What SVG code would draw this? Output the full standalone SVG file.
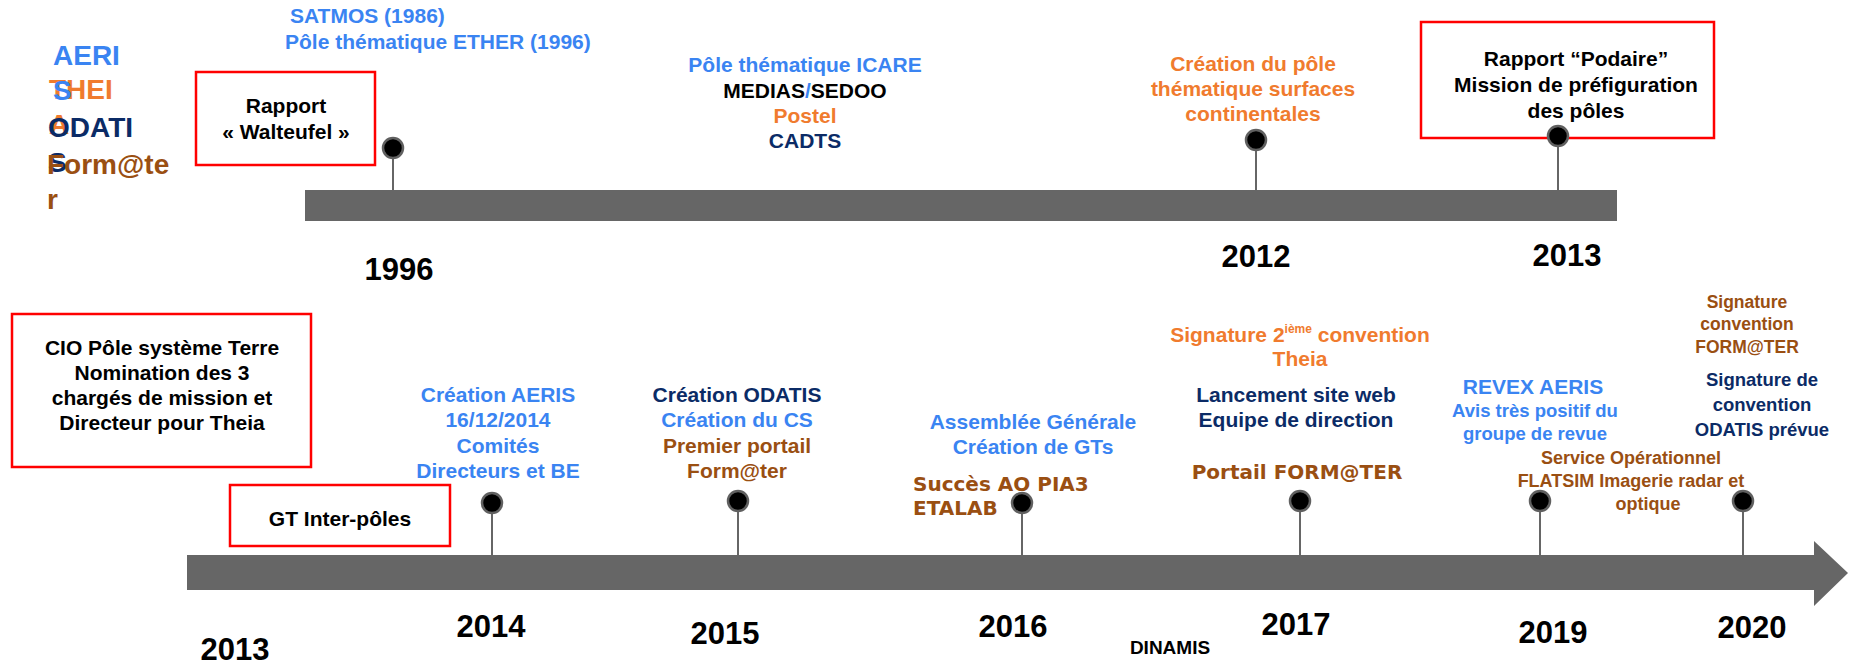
<svg xmlns="http://www.w3.org/2000/svg" width="1851" height="664" viewBox="0 0 1851 664">
<style>
text{font-family:"Liberation Sans",Arial,Helvetica,sans-serif;font-weight:bold;font-size:21px;}
.c{text-anchor:middle;}
.blue{fill:#3a84f2;}
.orange{fill:#f07b2e;}
.navy{fill:#0b2b66;}
.brown{fill:#9a4f12;}
.black{fill:#000;}
.wide{font-family:"DejaVu Sans",Verdana,sans-serif;font-size:20px;}
.leg{font-size:28px;}
.year{font-size:31px;fill:#000;text-anchor:middle;}
.box{fill:#fff;stroke:#ff0000;stroke-width:2.5;}
.bar{fill:#666666;}
.dot{fill:#000;stroke:#606060;stroke-width:2.5;}
.stem{stroke:#666666;stroke-width:2;fill:none;}
</style>
<rect width="1851" height="664" fill="#fff"/>

<g id="legend">
<text class="leg orange" x="49" y="99">THEI</text>
<text class="leg orange" x="49" y="134">A</text>
<text class="leg blue" x="53" y="65">AERI</text>
<text class="leg blue" x="53" y="100">S</text>
<text class="leg navy" x="48" y="137">ODATI</text>
<text class="leg navy" x="48" y="172">S</text>
<text class="leg brown" x="47" y="174">Form@te</text>
<text class="leg brown" x="47" y="209">r</text>
</g>

<g id="timelines">
<rect class="bar" x="305" y="190" width="1312" height="31"/>
<path class="bar" d="M187,555 H1814 V541 L1848,573 L1814,606 V590 H187 Z"/>
</g>

<g id="connectors">
<line class="stem" x1="393" y1="148" x2="393" y2="190"/>
<line class="stem" x1="1256" y1="140" x2="1256" y2="190"/>
<line class="stem" x1="1558" y1="136" x2="1558" y2="190"/>
<line class="stem" x1="492" y1="503" x2="492" y2="555"/>
<line class="stem" x1="738" y1="501" x2="738" y2="555"/>
<line class="stem" x1="1022" y1="503" x2="1022" y2="555"/>
<line class="stem" x1="1300" y1="501" x2="1300" y2="555"/>
<line class="stem" x1="1540" y1="501" x2="1540" y2="555"/>
<line class="stem" x1="1743" y1="501" x2="1743" y2="555"/>
</g>

<g id="node-satmos-ether">
<text class="blue" x="290" y="23">SATMOS (1986)</text>
<text class="blue" x="285" y="49">Pôle thématique ETHER (1996)</text>
</g>

<g id="node-walteufel">
<rect class="box" x="196" y="72" width="179" height="93"/>
<text class="c black" x="286" y="113">Rapport</text>
<text class="c black" x="286" y="139">« Walteufel »</text>
</g>

<g id="node-icare">
<text class="c blue" x="805" y="72">Pôle thématique ICARE</text>
<text class="c black" x="805" y="98">MEDIAS<tspan class="blue">/</tspan>SEDOO</text>
<text class="c orange" x="805" y="123">Postel</text>
<text class="c navy" x="805" y="148">CADTS</text>
</g>

<g id="node-surfaces">
<text class="c orange" x="1253" y="71">Création du pôle</text>
<text class="c orange" x="1253" y="96">thématique surfaces</text>
<text class="c orange" x="1253" y="121">continentales</text>
</g>

<g id="node-podaire">
<rect class="box" x="1421" y="22" width="293" height="116"/>
<text class="c black" x="1576" y="66">Rapport “Podaire”</text>
<text class="c black" x="1576" y="92">Mission de préfiguration</text>
<text class="c black" x="1576" y="118">des pôles</text>
</g>

<g id="markers">
<circle class="dot" cx="393" cy="148" r="10"/>
<circle class="dot" cx="1256" cy="140" r="10"/>
<circle class="dot" cx="1558" cy="136" r="10"/>
<circle class="dot" cx="492" cy="503" r="10"/>
<circle class="dot" cx="738" cy="501" r="10"/>
<circle class="dot" cx="1022" cy="503" r="10"/>
<circle class="dot" cx="1300" cy="501" r="10"/>
<circle class="dot" cx="1540" cy="501" r="10"/>
<circle class="dot" cx="1743" cy="501" r="10"/>
</g>

<g id="years">
<text class="year" x="399" y="280">1996</text>
<text class="year" x="1256" y="267">2012</text>
<text class="year" x="1567" y="266">2013</text>
<text class="year" x="235" y="660">2013</text>
<text class="year" x="491" y="637">2014</text>
<text class="year" x="725" y="644">2015</text>
<text class="year" x="1013" y="637">2016</text>
<text class="year" x="1296" y="635">2017</text>
<text class="year" x="1553" y="643">2019</text>
<text class="year" x="1752" y="638">2020</text>
<text class="c black" x="1170" y="654" style="font-size:19px">DINAMIS</text>
</g>

<g id="node-cio">
<rect class="box" x="12" y="314" width="299" height="153"/>
<text class="c black" x="162" y="355">CIO Pôle système Terre</text>
<text class="c black" x="162" y="380">Nomination des 3</text>
<text class="c black" x="162" y="405">chargés de mission et</text>
<text class="c black" x="162" y="430">Directeur pour Theia</text>
</g>

<g id="node-gt">
<rect class="box" x="230" y="485" width="220" height="61"/>
<text class="c black" x="340" y="526">GT Inter-pôles</text>
</g>

<g id="node-aeris">
<text class="c blue" x="498" y="402">Création AERIS</text>
<text class="c blue" x="498" y="427">16/12/2014</text>
<text class="c blue" x="498" y="453">Comités</text>
<text class="c blue" x="498" y="478">Directeurs et BE</text>
</g>

<g id="node-odatis">
<text class="c navy" x="737" y="402">Création ODATIS</text>
<text class="c blue" x="737" y="427">Création du CS</text>
<text class="c brown" x="737" y="453">Premier portail</text>
<text class="c brown" x="737" y="478">Form@ter</text>
</g>

<g id="node-assemblee">
<text class="c blue" x="1033" y="429">Assemblée Générale</text>
<text class="c blue" x="1033" y="454">Création de GTs</text>
</g>

<g id="node-pia3">
<text class="wide brown" x="913" y="491">Succès AO PIA3</text>
<text class="wide brown" x="913" y="515">ETALAB</text>
</g>

<g id="node-convention2">
<text class="c orange" x="1300" y="342">Signature 2<tspan style="font-size:12px" dy="-9">ième</tspan><tspan dy="9"> convention</tspan></text>
<text class="c orange" x="1300" y="366">Theia</text>
</g>

<g id="node-siteweb">
<text class="c navy" x="1296" y="402">Lancement site web</text>
<text class="c navy" x="1296" y="427">Equipe de direction</text>
</g>

<g id="node-portail">
<text class="wide brown c" x="1297" y="479">Portail FORM@TER</text>
</g>

<g id="node-revex">
<text class="c blue" x="1533" y="394">REVEX AERIS</text>
<text class="c blue" x="1535" y="417" style="font-size:18.5px">Avis très positif du</text>
<text class="c blue" x="1535" y="440" style="font-size:18.5px">groupe de revue</text>
</g>

<g id="node-flatsim">
<text class="c brown" x="1631" y="464" style="font-size:18px">Service Opérationnel</text>
<text class="c brown" x="1631" y="487" style="font-size:18px">FLATSIM Imagerie radar et</text>
<text class="c brown" x="1648" y="510" style="font-size:18px">optique</text>
</g>

<g id="node-formater-conv">
<text class="c brown" x="1747" y="308" style="font-size:17.5px">Signature</text>
<text class="c brown" x="1747" y="330" style="font-size:17.5px">convention</text>
<text class="c brown" x="1747" y="353" style="font-size:17.5px">FORM@TER</text>
</g>

<g id="node-odatis-conv">
<text class="c navy" x="1762" y="386" style="font-size:18.5px">Signature de</text>
<text class="c navy" x="1762" y="411" style="font-size:18.5px">convention</text>
<text class="c navy" x="1762" y="436" style="font-size:18.5px">ODATIS prévue</text>
</g>
</svg>
